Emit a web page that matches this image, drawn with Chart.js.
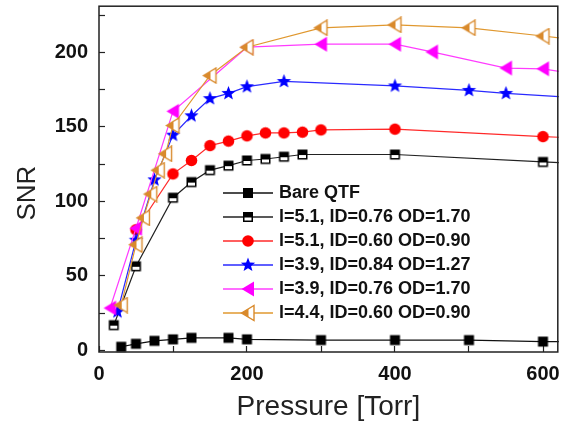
<!DOCTYPE html>
<html><head><meta charset="utf-8">
<script src="https://cdn.jsdelivr.net/npm/chart.js@4/dist/chart.umd.min.js"></script>
<style>html,body{margin:0;padding:0;background:#fff}#wrap{width:564px;height:423px;position:relative}</style>
</head><body><div id="wrap"><canvas id="c"></canvas></div>
<script>
// ---- data ----
const seriesNames = ['Bare QTF', 'l=5.1, ID=0.76 OD=1.70', 'l=5.1, ID=0.60 OD=0.90', 'l=3.9, ID=0.84 OD=1.27', 'l=3.9, ID=0.76 OD=1.70', 'l=4.4, ID=0.60 OD=0.90'];
const pressureBare = [30, 50, 75, 100, 125, 175, 200, 300, 400, 500, 600, 650];
const snrBare      = [2.5, 4.5, 6.5, 7.5, 8.5, 8.5, 7.5, 7, 7, 7, 6, 6];
const pressureA = [20, 50, 100, 125, 150, 175, 200, 225, 250, 275, 400, 600, 650];
const snrA      = [17, 56.5, 102.5, 113, 121, 124, 127.5, 128.5, 130, 131.5, 131.5, 126.5, 125.5];
const pressureB = [50, 100, 125, 150, 175, 200, 225, 250, 275, 300, 400, 600, 650];
const snrB      = [81, 118.5, 127.5, 137.5, 140.5, 144, 146, 146, 146.5, 148, 148.5, 143.5, 142.5];
const pressureC = [25, 50, 75, 100, 125, 150, 175, 200, 250, 400, 500, 550, 650];
const snrC      = [26, 74, 114.5, 144.5, 157.5, 169, 172.5, 177, 180.5, 177.5, 174.5, 172.5, 169.5];
const pressureD = [15, 50, 100, 200, 300, 400, 450, 550, 600, 650];
const snrD      = [28.5, 82, 160.5, 203.5, 205.5, 205.5, 200.3, 189.5, 189, 185];
const pressureE = [30, 50, 60, 70, 80, 90, 100, 150, 200, 300, 400, 500, 600, 650];
const snrE      = [30.5, 71, 89, 105, 121, 132, 151, 184.5, 203.5, 216.5, 218.5, 216.5, 211, 208];
const xTickValuesLabelled = [0, 200, 400, 600];
const yTickValuesLabelled = [0, 50, 100, 150, 200];

const FONT = "'Liberation Sans', Arial, sans-serif";
const colors = ['#000000', '#111111', '#ff0000', '#0000ff', '#ff00ff', '#d98a2c'];
const lineColors = ['#111111', '#222222', '#ff2a2a', '#2a2aff', '#ff3cff', '#e0982f'];

function mk(w, h, fn) { const c = document.createElement('canvas'); c.width = w; c.height = h; const g = c.getContext('2d'); fn(g, w, h); return c; }
function drawSquare(g, cx, cy) { g.fillStyle = '#000'; g.fillRect(cx - 5, cy - 5, 10, 10); }
function drawHalfSquare(g, cx, cy) { g.fillStyle = '#fff'; g.fillRect(cx - 4.5, cy - 4.5, 9, 9); g.fillStyle = '#000'; g.fillRect(cx - 4.5, cy - 4.5, 9, 5); g.strokeStyle = '#000'; g.lineWidth = 1.5; g.strokeRect(cx - 4.25, cy - 4.25, 8.5, 8.5); }
function drawCircle(g, cx, cy) { g.fillStyle = colors[2]; g.beginPath(); g.arc(cx, cy, 5.8, 0, Math.PI * 2); g.fill(); }
function drawStar(g, cx, cy) { g.fillStyle = colors[3]; g.beginPath(); const R = 7.5, r = 3.2; for (let i = 0; i < 10; i++) { const a = -Math.PI / 2 + i * Math.PI / 5; const rr = i % 2 ? r : R; const x = cx + rr * Math.cos(a), y = cy + rr * Math.sin(a); i ? g.lineTo(x, y) : g.moveTo(x, y); } g.closePath(); g.fill(); }
function triPath(g, cx, cy) { g.beginPath(); g.moveTo(cx - 6.5, cy); g.lineTo(cx + 6, cy - 7.5); g.lineTo(cx + 6, cy + 7.5); g.closePath(); }
function drawTriFilled(g, cx, cy) { g.fillStyle = colors[4]; triPath(g, cx, cy); g.fill(); }
function drawTriHalf(g, cx, cy) { g.fillStyle = '#fff'; triPath(g, cx, cy); g.fill(); g.save(); triPath(g, cx, cy); g.clip(); g.fillStyle = colors[5]; g.fillRect(cx - 8, cy - 8, 8.5, 16); g.restore(); g.strokeStyle = colors[5]; g.lineWidth = 1.4; triPath(g, cx, cy); g.stroke(); }
const markerFns = [drawSquare, drawHalfSquare, drawCircle, drawStar, drawTriFilled, drawTriHalf];
const pointImgs = markerFns.map(fn => mk(17, 17, (g) => fn(g, 8.5, 8.5)));
const legendImgs = markerFns.map((fn, i) => mk(50, 18, (g) => { g.strokeStyle = lineColors[i]; g.lineWidth = 1.3; g.beginPath(); g.moveTo(0, 9); g.lineTo(50, 9); g.stroke(); fn(g, 25, 9); }));

const xs = [pressureBare, pressureA, pressureB, pressureC, pressureD, pressureE];
const ys = [snrBare, snrA, snrB, snrC, snrD, snrE];
const datasets = seriesNames.map((name, i) => ({
  label: name,
  data: xs[i].map((x, k) => ({ x: x, y: ys[i][k] })),
  borderColor: lineColors[i],
  backgroundColor: colors[i],
  borderWidth: 1.2,
  pointStyle: pointImgs[i],
  pointRadius: 5,
  pointHoverRadius: 5,
  tension: 0,
  order: 6 - i,
  clip: 1
}));

function zeroPad(s) { s.paddingTop = 0; s.paddingBottom = 0; s.paddingLeft = 0; s.paddingRight = 0; }

const frame = {
  id: 'frame',
  afterLayout(chart) {
    const lg = chart.legend;
    if (lg) { const w = lg.width, h = lg.height; lg.left = 220; lg.top = 178; lg.right = lg.left + w; lg.bottom = lg.top + h; }
    const s = chart.scales.y;
    if (s && !s._shifted) {
      const orig = s.drawTitle;
      s.drawTitle = function () { const t = this.top, b = this.bottom; this.top = t + 14; this.bottom = b + 14; orig.call(this); this.top = t; this.bottom = b; };
      s._shifted = true;
    }
  },
  afterDraw(chart) {
    const a = chart.chartArea, g = chart.ctx;
    g.save(); g.strokeStyle = '#222'; g.lineWidth = 1.5; g.strokeRect(a.left, a.top, a.right - a.left, a.bottom - a.top); g.restore();
  }
};

new Chart(document.getElementById('c'), {
  type: 'line',
  data: { datasets },
  options: {
    responsive: true, maintainAspectRatio: false, animation: false,
    layout: { padding: { left: 0, top: 6, right: 5, bottom: 0 } },
    plugins: {
      tooltip: { enabled: false },
      legend: {
        position: 'chartArea', align: 'start',
        labels: {
          usePointStyle: true, pointStyleWidth: 44, padding: 6, color: '#111',
          font: { family: FONT, size: 18, weight: 'bold' },
          sort: (a, b) => a.datasetIndex - b.datasetIndex,
          generateLabels(chart) {
            const items = Chart.defaults.plugins.legend.labels.generateLabels(chart);
            items.forEach(it => { it.pointStyle = legendImgs[it.datasetIndex]; });
            return items;
          }
        }
      }
    },
    scales: {
      x: {
        type: 'linear', min: 0, max: 620,
        afterFit(s) { s.height = 71; zeroPad(s); },
        grid: { drawOnChartArea: false, tickLength: -6, color: '#222', tickWidth: 1.2 },
        border: { display: false },
        ticks: { stepSize: 100, includeBounds: false, padding: 16, color: '#111', font: { family: FONT, size: 20, weight: 'bold' },
          callback: (v) => xTickValuesLabelled.includes(v) ? String(v) : '' , autoSkip: false, maxRotation: 0 },
        title: { display: true, text: 'Pressure [Torr]', color: '#222', font: { family: FONT, size: 28 }, padding: { top: 0, bottom: -1 } }
      },
      y: {
        type: 'linear', min: -1, max: 231,
        afterFit(s) { s.width = 99; zeroPad(s); },
        grid: { drawOnChartArea: false, tickLength: -6, color: '#222', tickWidth: 1.2 },
        border: { display: false },
        ticks: { stepSize: 25, includeBounds: false, padding: 17, color: '#111', font: { family: FONT, size: 20, weight: 'bold' },
          callback: (v) => yTickValuesLabelled.includes(v) ? String(v) : '', autoSkip: false },
        title: { display: true, text: 'SNR', color: '#222', font: { family: FONT, size: 26 }, padding: { top: 12, bottom: 0 } }
      }
    }
  },
  plugins: [frame]
});
</script></body></html>
